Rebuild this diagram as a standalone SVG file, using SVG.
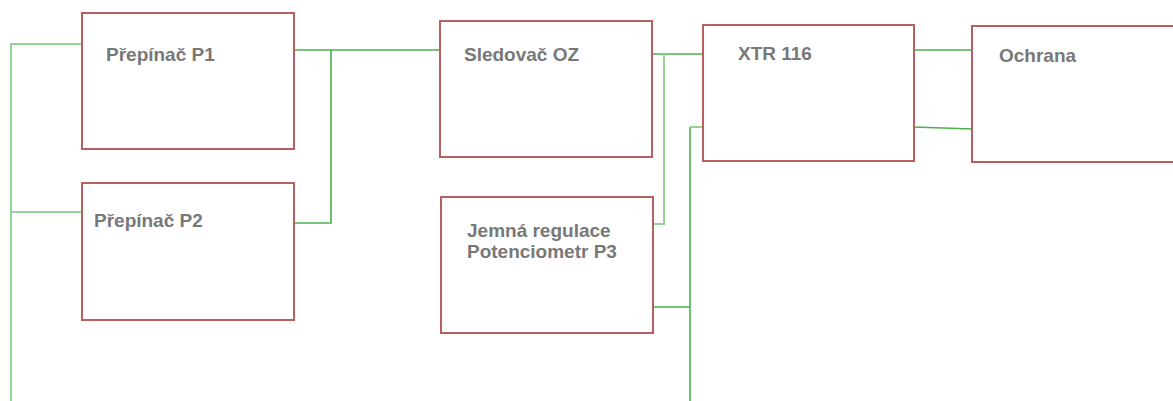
<svg xmlns="http://www.w3.org/2000/svg" width="1173" height="401" viewBox="0 0 1173 401">
<style>
.box{fill:#ffffff;stroke:#b86060;stroke-width:2}
.lbl{font-family:"Liberation Sans",Arial,sans-serif;font-weight:bold;font-size:19px;fill:#787878}
.w{fill:none;stroke:#4caf50;stroke-width:1.6}
.wl{fill:none;stroke:#96d396;stroke-width:2}
</style>
<rect width="1173" height="401" fill="#ffffff"/>
<g id="connectors">
<path class="wl" d="M11,401 V44 H82"/>
<path class="wl" d="M11,212 H82"/>
<path class="w" d="M294,50 H440"/>
<path class="w" d="M331,50 V223 H294"/>
<path class="w" d="M652,54 H703"/>
<path class="wl" d="M664,54 V224 H653"/>
<path class="w" d="M653,307 H690"/>
<path class="w" d="M690,401 V127"/>
<path class="wl" d="M690,127 H703"/>
<path class="w" d="M914,50 H972"/>
<path class="w" d="M914,127 L972,129"/>
</g>
<g id="prepinac-p1"><rect class="box" x="82" y="13" width="212" height="136"/><text class="lbl" x="106" y="61">Přepínač P1</text></g>
<g id="prepinac-p2"><rect class="box" x="82" y="183" width="212" height="137"/><text class="lbl" x="94" y="227">Přepínač P2</text></g>
<g id="sledovac-oz"><rect class="box" x="440" y="21" width="212" height="136"/><text class="lbl" x="464" y="61">Sledovač OZ</text></g>
<g id="jemna-regulace"><rect class="box" x="441" y="197" width="212" height="136"/><text class="lbl" x="467" y="237">Jemná regulace</text><text class="lbl" x="467" y="258">Potenciometr P3</text></g>
<g id="xtr116"><rect class="box" x="703" y="25" width="211" height="136"/><text class="lbl" x="738" y="60">XTR 116</text></g>
<g id="ochrana"><rect class="box" x="972" y="26" width="210" height="136"/><text class="lbl" x="999" y="62">Ochrana</text></g>
</svg>
